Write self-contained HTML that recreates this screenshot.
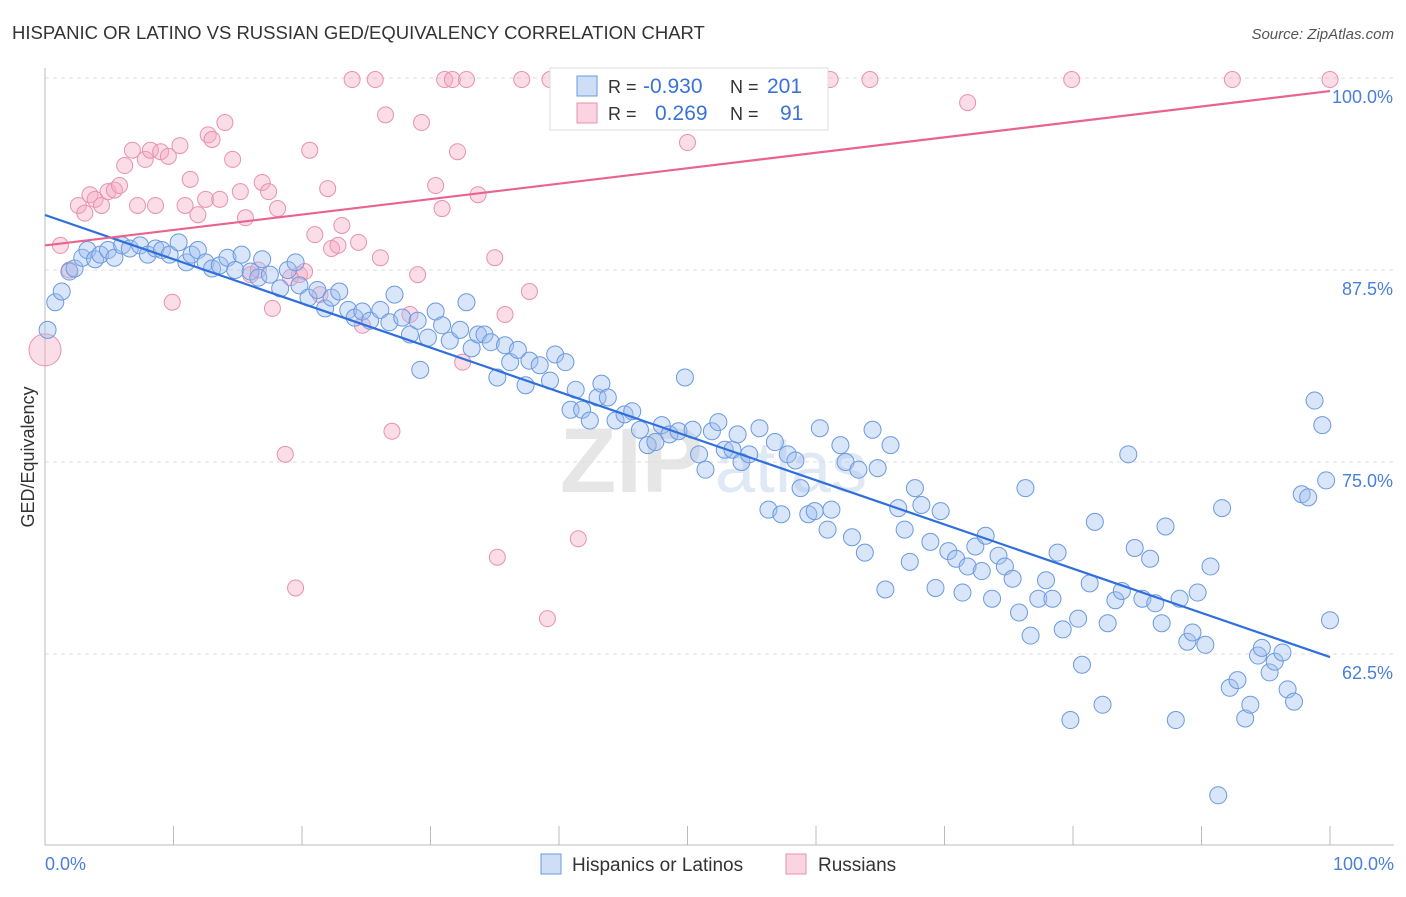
<!DOCTYPE html>
<html><head><meta charset="utf-8"><style>
body{margin:0;background:#fff;font-family:"Liberation Sans",sans-serif}
svg text{font-family:"Liberation Sans",sans-serif}
</style></head><body>
<svg width="1406" height="892" viewBox="0 0 1406 892">
<text x="12" y="39" font-size="18.5" fill="#333">HISPANIC OR LATINO VS RUSSIAN GED/EQUIVALENCY CORRELATION CHART</text>
<text x="1394" y="39" font-size="15" fill="#555" font-style="italic" text-anchor="end">Source: ZipAtlas.com</text>
<text x="560" y="492" font-size="92" fill="#e6e6e6" font-weight="bold">ZIP</text>
<text x="715" y="492" font-size="72" fill="#dfe8f5">atlas</text>
<g id="grid"></g>
<g id="axes"></g>
<g id="pts"></g>
<g id="trend"></g>
<text transform="translate(34,457) rotate(-90)" font-size="18" fill="#333" text-anchor="middle">GED/Equivalency</text>
<text x="45" y="870" font-size="18" fill="#4a7fd8">0.0%</text>
<text x="1394" y="870" font-size="18" fill="#4a7fd8" text-anchor="end">100.0%</text>
<g>
<rect x="550" y="68" width="278" height="62" fill="#fff" stroke="#ddd"/>
<rect x="577" y="76" width="20" height="20" fill="rgba(160,190,240,0.5)" stroke="#6a9ae0"/>
<rect x="577" y="103" width="20" height="20" fill="rgba(245,170,195,0.5)" stroke="#e890b0"/>
<text x="608" y="93" font-size="18" fill="#333">R = </text><text x="643" y="93" font-size="21" fill="#3a72d8">-0.930</text>
<text x="730" y="93" font-size="18" fill="#333">N = </text><text x="767" y="93" font-size="21" fill="#3a72d8">201</text>
<text x="608" y="120" font-size="18" fill="#333">R = </text><text x="655" y="120" font-size="21" fill="#3a72d8">0.269</text>
<text x="730" y="120" font-size="18" fill="#333">N = </text><text x="780" y="120" font-size="21" fill="#3a72d8">91</text>
</g>
<g>
<rect x="541" y="854" width="20" height="20" fill="rgba(160,190,240,0.5)" stroke="#6a9ae0"/>
<text x="572" y="871" font-size="19" fill="#333">Hispanics or Latinos</text>
<rect x="786" y="854" width="20" height="20" fill="rgba(245,170,195,0.5)" stroke="#e890b0"/>
<text x="818" y="871" font-size="19" fill="#333">Russians</text>
</g>
</svg>
<script>
const yTicks=[100,87.5,75,62.5];
const blueX=[0.2,0.8,1.3,1.9,2.3,2.9,3.3,3.9,4.3,4.9,5.4,6.0,6.6,7.4,8.0,8.6,9.1,9.7,10.4,11.0,11.4,11.9,12.5,13.0,13.6,14.2,14.8,15.3,16.0,16.6,16.9,17.5,18.3,18.9,19.5,19.8,20.5,21.2,21.8,22.3,22.9,23.6,24.1,24.7,25.3,26.1,26.8,27.2,27.8,28.4,29.0,29.2,29.8,30.4,30.9,31.5,32.3,32.8,33.2,33.7,34.2,34.7,35.2,35.8,36.2,36.8,37.4,37.7,38.5,39.3,39.7,40.5,40.9,41.3,41.8,42.4,43.0,43.3,43.8,44.4,45.1,45.7,46.3,46.9,47.5,48.0,48.6,49.3,49.8,50.4,50.9,51.4,51.9,52.4,52.9,53.5,53.9,54.2,54.8,55.6,56.3,56.8,57.3,57.8,58.4,58.8,59.4,59.9,60.3,60.9,61.2,61.9,62.3,62.8,63.3,63.8,64.4,64.8,65.4,65.8,66.4,66.9,67.3,67.7,68.2,68.9,69.3,69.7,70.3,70.9,71.4,71.8,72.4,72.9,73.2,73.7,74.2,74.7,75.3,75.8,76.3,76.7,77.3,77.9,78.4,78.8,79.2,79.8,80.4,80.7,81.3,81.7,82.3,82.7,83.3,83.8,84.3,84.8,85.4,86.0,86.4,86.9,87.2,88.0,88.3,88.9,89.3,89.7,90.3,90.7,91.3,91.6,92.2,92.8,93.4,93.8,94.4,94.7,95.3,95.7,96.3,96.7,97.2,97.8,98.3,98.8,99.4,99.7,100];
const blueY=[83.6,85.4,86.1,87.4,87.6,88.3,88.8,88.2,88.5,88.8,88.3,89.1,88.9,89.1,88.5,88.9,88.8,88.5,89.3,88.0,88.5,88.8,88.0,87.6,87.8,88.3,87.5,88.5,87.4,87.0,88.2,87.2,86.3,87.5,88.0,86.5,85.7,86.2,85.0,85.7,86.1,84.9,84.4,84.8,84.2,84.9,84.1,85.9,84.4,83.3,84.2,81.0,83.1,84.8,83.9,82.9,83.6,85.4,82.4,83.3,83.3,82.8,80.5,82.6,81.5,82.3,80.0,81.6,81.3,80.3,82.0,81.5,78.4,79.7,78.4,77.7,79.2,80.1,79.2,77.7,78.1,78.3,77.1,76.1,76.3,77.4,76.8,77.0,80.5,77.1,75.5,74.5,77.0,77.6,75.8,75.8,76.8,75.0,75.5,77.2,71.9,76.3,71.6,75.5,75.1,73.3,71.6,71.8,77.2,70.6,71.9,76.1,75.0,70.1,74.5,69.1,77.1,74.6,66.7,76.1,72.0,70.6,68.5,73.3,72.2,69.8,66.8,71.8,69.2,68.7,66.5,68.2,69.5,67.9,70.2,66.1,68.9,68.2,67.4,65.2,73.3,63.7,66.1,67.3,66.1,69.1,64.1,58.2,64.8,61.8,67.1,71.1,59.2,64.5,66.0,66.6,75.5,69.4,66.1,68.7,65.8,64.5,70.8,58.2,66.1,63.3,63.9,66.5,63.1,68.2,53.3,72.0,60.3,60.8,58.3,59.2,62.4,62.9,61.3,62.0,62.6,60.2,59.4,72.9,72.7,79.0,77.4,73.8,64.7];
const pinkX=[0,1.2,1.9,2.6,3.1,3.5,3.9,4.4,4.9,5.4,5.8,6.2,6.8,7.2,7.8,8.2,8.6,9.0,9.6,9.9,10.5,10.9,11.3,11.9,12.5,12.7,13.0,13.6,14.0,14.6,15.2,15.6,16.0,16.6,16.9,17.4,17.7,18.1,18.7,19.1,19.5,19.8,20.2,20.6,21.0,21.4,22.0,22.3,22.8,23.1,23.9,24.4,24.7,25.7,26.1,26.5,27.0,28.4,29.0,29.3,30.4,30.9,31.1,31.7,32.1,32.5,32.8,33.7,35.0,35.2,35.8,37.1,37.7,39.1,39.3,41.5,44.4,47.2,50.0,50.9,52.1,57.0,61.1,64.2,71.8,79.9,92.4,100];
const pinkY=[82.3,89.1,87.5,91.7,91.2,92.4,92.1,91.7,92.6,92.7,93.0,94.3,95.3,91.7,94.7,95.3,91.7,95.2,94.9,85.4,95.6,91.7,93.4,91.1,92.1,96.3,96.0,92.1,97.1,94.7,92.6,90.9,87.2,87.5,93.2,92.6,85.0,91.5,75.5,87.0,66.8,87.2,87.4,95.3,89.8,85.9,92.8,88.9,89.1,90.4,99.9,89.3,83.9,99.9,88.3,97.6,77.0,84.6,87.2,97.1,93.0,91.5,99.9,99.9,95.2,81.5,99.9,92.4,88.3,68.8,84.6,99.9,86.1,64.8,99.9,70.0,99.9,99.9,95.8,99.9,99.9,99.9,99.9,99.9,98.4,99.9,99.9,99.9];
const blueTrend=[91.08,62.3];
const pinkTrend=[89.1,99.15];
const NS='http://www.w3.org/2000/svg';
const xs=v=>45+v*12.85;
const ys=v=>78+(100-v)*15.36;
function mk(tag,attrs,parent){const e=document.createElementNS(NS,tag);for(const k in attrs)e.setAttribute(k,attrs[k]);document.getElementById(parent).appendChild(e);return e;}
yTicks.forEach(t=>{
 const l=mk('line',{x1:45,x2:1394,y1:ys(t),y2:ys(t),stroke:'#ddd','stroke-dasharray':'4,4'},'grid');
 
 
 const tx=mk('text',{x:1393,y:ys(t)+25,'font-size':18,fill:'#4a7fd8','text-anchor':'end'},'grid');
 tx.textContent=t.toFixed(1)+'%';
 
 
});
const ax=mk('line',{x1:45,x2:1394,y1:845,y2:845,stroke:'#bbb'},'axes');


const ay=mk('line',{x1:45,x2:45,y1:68,y2:845,stroke:'#bbb'},'axes');


for(let i=0;i<=10;i++){
 const tk=mk('line',{x1:xs(i*10),x2:xs(i*10),y1:826,y2:845,stroke:'#bbb'},'axes');
 
 
}
pinkX.forEach((x,i)=>{
 const c=mk('circle',{cx:xs(x),cy:ys(pinkY[i]),r:i===0?16:8,fill:'rgba(245,170,195,0.4)',stroke:'#e890b0','stroke-width':1},'pts');
 
 
});
blueX.forEach((x,i)=>{
 const c=mk('circle',{cx:xs(x),cy:ys(blueY[i]),r:8.5,fill:'rgba(160,190,240,0.4)',stroke:'#6a9ae0','stroke-width':1},'pts');
 
 
});
const bt=mk('line',{x1:xs(0),y1:ys(blueTrend[0]),x2:xs(100),y2:ys(blueTrend[1]),stroke:'#2f6fdc','stroke-width':2.2},'trend');


const pt=mk('line',{x1:xs(0),y1:ys(pinkTrend[0]),x2:xs(100),y2:ys(pinkTrend[1]),stroke:'#e8648f','stroke-width':2.2},'trend');


</script>
</body></html>
